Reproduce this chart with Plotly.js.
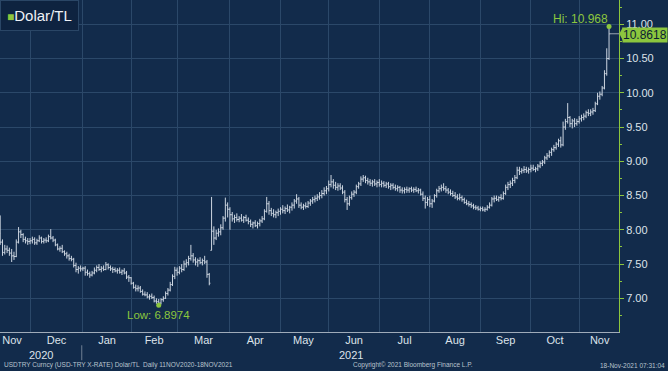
<!DOCTYPE html>
<html><head><meta charset="utf-8">
<script src="https://cdn.plot.ly/plotly-3.0.1.min.js"></script>
<style>html,body{margin:0;padding:0;background:#122b4b;}#chart{width:668px;height:371px;}</style>
</head><body><div id="chart"></div>
<script>
// ---- data ----
const firstDay = '2020-11-12';
const lastDay = '2021-11-18';
const monthStarts = ['2020-12-01','2021-01-01','2021-02-01','2021-03-01','2021-04-01','2021-05-03','2021-06-01','2021-07-01','2021-08-02','2021-09-01','2021-10-01','2021-11-01'];
const monthLabels = ['Nov','Dec','Jan','Feb','Mar','Apr','May','Jun','Jul','Aug','Sep','Oct','Nov'];
const monthLabelPos = ['2020-11-19 15:00','2020-12-17','2021-01-18','2021-02-15 12:00','2021-03-17','2021-04-16 12:00','2021-05-17 12:00','2021-06-16 12:00','2021-07-16 12:00','2021-08-17 12:00','2021-09-16 12:00','2021-10-18','2021-11-12 10:00'];
const yearLabels = ['2020','2021'];
const yearLabelPos = ['2020-12-08 07:00','2021-06-15'];
const yearBoundary = '2021-01-01';

const openP = [
 7.95,7.82,7.67,7.72,7.70,7.66,7.62,7.61,7.82,7.97,7.93,7.86,7.84,
 7.83,7.84,7.86,7.81,7.84,7.88,7.83,7.85,7.84,7.90,7.88,7.85,7.78,7.72,7.73,7.68,7.65,7.62,7.58,7.57,7.48,7.42,7.44,
 7.43,7.44,7.38,7.36,7.34,7.37,7.41,7.45,7.42,7.44,7.42,7.49,7.45,7.43,7.42,7.40,7.41,7.38,7.40,7.37,7.31,
 7.30,7.22,7.16,7.14,7.15,7.10,7.06,7.05,7.02,7.03,7.01,6.96,6.95,6.93,6.98,7.00,7.07,7.12,7.20,7.32,
 7.41,7.38,7.44,7.42,7.50,7.52,7.58,7.62,7.56,7.53,7.55,7.52,7.55,7.53,7.35,7.70,7.98,7.88,7.95,7.97,8.03,8.17,8.36,
 8.30,8.22,8.16,8.18,8.15,8.17,8.14,8.18,8.14,8.12,8.08,8.10,8.06,8.09,8.13,8.16,8.27,8.38,8.28,8.24,8.22,8.25,
 8.27,8.30,8.28,8.31,8.29,8.33,8.36,8.42,8.45,8.36,8.33,8.35,8.34,8.39,8.42,8.44,8.46,8.48,8.50,8.53,8.57,
 8.60,8.66,8.70,8.65,8.62,8.64,8.61,8.55,8.44,8.38,8.47,8.52,8.55,8.63,8.67,8.74,8.76,8.72,8.70,8.68,8.70,8.67,
 8.69,8.66,8.68,8.65,8.67,8.63,8.65,8.62,8.60,8.62,8.58,8.57,8.59,8.58,8.60,8.58,8.59,8.57,8.58,8.52,8.46,8.40,
 8.44,8.38,8.42,8.50,8.57,8.60,8.62,8.60,8.58,8.55,8.53,8.50,8.48,8.46,8.47,8.44,8.40,8.38,8.37,8.35,8.33,8.32,
 8.30,8.31,8.29,8.30,8.33,8.36,8.45,8.46,8.44,8.47,8.46,8.53,8.62,8.66,8.68,8.72,8.76,8.87,8.85,8.87,8.88,8.86,
 8.88,8.90,8.88,8.89,8.93,8.97,8.99,9.05,9.08,9.13,9.17,9.20,9.25,9.30,9.24,9.50,9.58,9.64,9.55,9.59,9.55,
 9.58,9.62,9.64,9.66,9.71,9.70,9.72,9.74,9.84,9.95,9.98,10.07,10.28,10.50
];
const highP = [
 8.21,7.86,7.78,7.77,7.74,7.72,7.68,7.86,8.04,8.00,7.95,7.90,7.88,
 7.88,7.90,7.89,7.87,7.92,7.90,7.88,7.89,7.93,8.01,7.91,7.87,7.80,7.76,7.78,7.70,7.68,7.65,7.62,7.59,7.52,7.47,7.48,
 7.46,7.47,7.42,7.39,7.40,7.45,7.48,7.50,7.47,7.48,7.53,7.51,7.48,7.46,7.45,7.44,7.45,7.42,7.44,7.40,7.34,
 7.31,7.24,7.20,7.19,7.18,7.13,7.10,7.09,7.06,7.07,7.04,7.00,6.99,7.00,7.03,7.10,7.15,7.24,7.35,7.46,
 7.45,7.47,7.50,7.55,7.57,7.62,7.78,7.66,7.60,7.58,7.60,7.58,7.62,7.56,7.37,8.48,8.05,8.00,8.02,8.08,8.20,8.47,8.40,
 8.33,8.26,8.22,8.24,8.20,8.23,8.20,8.22,8.18,8.15,8.12,8.14,8.12,8.16,8.20,8.30,8.48,8.42,8.32,8.30,8.28,8.31,
 8.33,8.36,8.34,8.37,8.35,8.40,8.45,8.52,8.48,8.40,8.38,8.40,8.42,8.45,8.48,8.50,8.52,8.55,8.58,8.62,8.64,
 8.72,8.80,8.74,8.70,8.68,8.68,8.65,8.58,8.48,8.50,8.56,8.58,8.66,8.70,8.78,8.80,8.79,8.76,8.74,8.73,8.74,8.72,
 8.74,8.72,8.71,8.70,8.70,8.68,8.68,8.66,8.65,8.64,8.62,8.62,8.63,8.62,8.63,8.62,8.63,8.61,8.60,8.56,8.50,8.48,
 8.50,8.45,8.52,8.60,8.64,8.66,8.68,8.64,8.61,8.59,8.57,8.55,8.52,8.53,8.50,8.47,8.44,8.42,8.40,8.38,8.36,8.35,
 8.34,8.34,8.33,8.36,8.40,8.48,8.50,8.50,8.49,8.52,8.56,8.66,8.70,8.72,8.76,8.80,8.92,8.92,8.90,8.93,8.92,8.91,
 8.95,8.95,8.92,8.96,9.00,9.02,9.08,9.12,9.16,9.20,9.24,9.28,9.33,9.36,9.58,9.62,9.85,9.66,9.62,9.63,9.62,
 9.66,9.68,9.70,9.74,9.76,9.76,9.78,9.87,10.00,10.02,10.10,10.33,10.65,10.968
];
const lowP = [
 7.78,7.62,7.64,7.66,7.62,7.53,7.56,7.60,7.80,7.88,7.82,7.80,7.78,
 7.79,7.80,7.78,7.78,7.82,7.80,7.80,7.81,7.82,7.86,7.82,7.76,7.70,7.68,7.66,7.62,7.58,7.55,7.54,7.45,7.38,7.36,7.39,
 7.40,7.33,7.33,7.30,7.32,7.35,7.38,7.40,7.38,7.40,7.41,7.42,7.40,7.37,7.38,7.36,7.36,7.34,7.35,7.28,7.24,
 7.20,7.14,7.10,7.10,7.08,7.04,7.03,7.00,6.98,6.99,6.94,6.92,6.8974,6.91,6.95,6.99,7.04,7.10,7.18,7.28,
 7.33,7.35,7.38,7.40,7.45,7.48,7.55,7.52,7.48,7.46,7.50,7.48,7.50,7.30,7.19,7.70,7.78,7.85,7.90,7.92,8.00,8.12,8.18,
 8.00,8.12,8.10,8.12,8.11,8.12,8.10,8.12,8.08,8.04,8.02,8.04,8.02,8.05,8.10,8.14,8.25,8.22,8.20,8.18,8.17,8.20,
 8.22,8.24,8.23,8.26,8.24,8.28,8.31,8.38,8.32,8.30,8.29,8.31,8.32,8.35,8.38,8.40,8.42,8.44,8.46,8.50,8.52,
 8.56,8.62,8.60,8.58,8.57,8.58,8.52,8.40,8.29,8.35,8.44,8.48,8.52,8.60,8.64,8.70,8.68,8.66,8.64,8.63,8.64,8.62,
 8.63,8.62,8.62,8.61,8.60,8.58,8.59,8.57,8.56,8.54,8.53,8.53,8.54,8.54,8.55,8.54,8.55,8.53,8.50,8.42,8.31,8.35,
 8.33,8.32,8.40,8.47,8.54,8.56,8.57,8.54,8.52,8.50,8.48,8.45,8.43,8.43,8.41,8.38,8.36,8.34,8.32,8.30,8.29,8.28,
 8.27,8.27,8.26,8.28,8.31,8.34,8.40,8.42,8.41,8.43,8.44,8.51,8.58,8.61,8.64,8.68,8.74,8.80,8.82,8.83,8.83,8.82,
 8.84,8.86,8.84,8.86,8.90,8.93,8.96,9.02,9.05,9.08,9.14,9.17,9.21,9.20,9.22,9.46,9.55,9.50,9.48,9.50,9.52,
 9.55,9.58,9.60,9.63,9.66,9.66,9.68,9.72,9.82,9.90,9.95,10.05,10.25,10.48
];
const closeP = [
 7.82,7.67,7.72,7.70,7.66,7.62,7.61,7.82,7.97,7.93,7.86,7.84,7.83,
 7.84,7.86,7.81,7.84,7.88,7.83,7.85,7.84,7.90,7.88,7.85,7.78,7.72,7.73,7.68,7.65,7.62,7.58,7.57,7.48,7.42,7.44,7.43,
 7.44,7.38,7.36,7.34,7.37,7.41,7.45,7.42,7.44,7.42,7.49,7.45,7.43,7.42,7.40,7.41,7.38,7.40,7.37,7.31,7.30,
 7.22,7.16,7.14,7.15,7.10,7.06,7.05,7.02,7.03,7.01,6.96,6.95,6.93,6.98,7.00,7.07,7.12,7.20,7.32,7.41,
 7.38,7.44,7.42,7.50,7.52,7.58,7.62,7.56,7.53,7.55,7.52,7.55,7.53,7.35,7.22,7.98,7.88,7.95,7.97,8.03,8.17,8.36,8.30,
 8.22,8.16,8.18,8.15,8.17,8.14,8.18,8.14,8.12,8.08,8.10,8.06,8.09,8.13,8.16,8.27,8.38,8.28,8.24,8.22,8.25,8.27,
 8.30,8.28,8.31,8.29,8.33,8.36,8.42,8.45,8.36,8.33,8.35,8.34,8.39,8.42,8.44,8.46,8.48,8.50,8.53,8.57,8.60,
 8.66,8.70,8.65,8.62,8.64,8.61,8.55,8.44,8.38,8.47,8.52,8.55,8.63,8.67,8.74,8.76,8.72,8.70,8.68,8.70,8.67,8.69,
 8.66,8.68,8.65,8.67,8.63,8.65,8.62,8.60,8.62,8.58,8.57,8.59,8.58,8.60,8.58,8.59,8.57,8.58,8.52,8.46,8.40,8.44,
 8.38,8.42,8.50,8.57,8.60,8.62,8.60,8.58,8.55,8.53,8.50,8.48,8.46,8.47,8.44,8.40,8.38,8.37,8.35,8.33,8.32,8.30,
 8.31,8.29,8.30,8.33,8.36,8.45,8.46,8.44,8.47,8.46,8.53,8.62,8.66,8.68,8.72,8.76,8.87,8.85,8.87,8.88,8.86,8.88,
 8.90,8.88,8.89,8.93,8.97,8.99,9.05,9.08,9.13,9.17,9.20,9.25,9.30,9.24,9.50,9.58,9.64,9.55,9.59,9.55,9.58,
 9.62,9.64,9.66,9.71,9.70,9.72,9.74,9.84,9.95,9.98,10.07,10.28,10.50,10.8618
];
const footerLeft = 'USDTRY Curncy (USD-TRY X-RATE) Dolar/TL  Daily 11NOV2020-18NOV2021';
const footerMid = 'Copyright\u00a9 2021 Bloomberg Finance L.P.';
const footerRight = '18-Nov-2021 07:31:04';
const seriesName = 'Dolar/TL';

// ---- styling ----
const BG = '#122b4b', GRID = '#2b4869', GREEN = '#8cc63e', BAR = '#ccd5e0', TXT = '#dde3ea';
const FONT = '"Liberation Sans", Arial, sans-serif';

// trading days (weekdays), bars drawn at mid-day
function weekdays(a, b) {
  const out = []; let d = new Date(a + 'T12:00:00Z'); const end = new Date(b + 'T12:00:00Z');
  while (d <= end) { const w = d.getUTCDay(); if (w !== 0 && w !== 6) out.push(d.toISOString().slice(0,10) + ' 12:00'); d = new Date(d.getTime() + 86400000); }
  return out;
}
const dates = weekdays(firstDay, lastDay);
if (dates.length !== closeP.length) console.error('length mismatch', dates.length, closeP.length);

const xRange = ['2020-11-12 10:00', '2021-11-24 20:00'];
const breaks = [{bounds: ['sat', 'mon']}];

let hiIdx = 0, loIdx = 0;
highP.forEach((v, i) => { if (v > highP[hiIdx]) hiIdx = i; });
lowP.forEach((v, i) => { if (v < lowP[loIdx]) loIdx = i; });
const lastIdx = closeP.length - 1;
const lastClose = closeP[lastIdx];

const traces = [
  {type: 'ohlc', x: dates, open: openP, high: highP, low: lowP, close: closeP, name: seriesName,
   increasing: {line: {color: BAR, width: 1}}, decreasing: {line: {color: BAR, width: 1}},
   tickwidth: 0.5, hoverinfo: 'skip'},
  {type: 'scatter', mode: 'markers', x: [dates[hiIdx], dates[loIdx]], y: [highP[hiIdx], lowP[loIdx]],
   xaxis: 'x2', marker: {color: GREEN, size: 5}, hoverinfo: 'skip'}
];

const annotations = [
  {xref: 'x', yref: 'y', x: dates[hiIdx], y: highP[hiIdx], text: 'Hi: ' + highP[hiIdx], showarrow: false,
   xanchor: 'right', yanchor: 'bottom', xshift: 1, yshift: -1, font: {family: FONT, size: 12, color: GREEN}},
  {xref: 'x', yref: 'y', x: dates[loIdx], y: lowP[loIdx], text: 'Low: ' + lowP[loIdx], showarrow: false,
   xanchor: 'center', yanchor: 'top', yshift: -2, font: {family: FONT, size: 11.5, color: GREEN}},
  {xref: 'paper', yref: 'y', x: 1, y: lastClose, text: String(lastClose), showarrow: false,
   xanchor: 'left', yanchor: 'middle', xshift: 3, yshift: -1, bgcolor: GREEN, borderpad: 0,
   font: {family: FONT, size: 12, color: '#0b1c33'}},
  {xref: 'paper', yref: 'paper', x: 0, y: 1, xanchor: 'left', yanchor: 'top', showarrow: false,
   text: '<span style="color:' + GREEN + ';font-size:12px">\u25A0</span>' + seriesName,
   bgcolor: '#0e2340', bordercolor: '#2a4666', borderwidth: 1, borderpad: 6,
   font: {family: FONT, size: 15, color: '#eef2f6'}},
  {xref: 'x', yref: 'paper', x: yearLabelPos[0], y: -0.069, text: yearLabels[0], showarrow: false,
   xanchor: 'center', yanchor: 'middle', font: {family: FONT, size: 11, color: TXT}},
  {xref: 'x', yref: 'paper', x: yearLabelPos[1], y: -0.069, text: yearLabels[1], showarrow: false,
   xanchor: 'center', yanchor: 'middle', font: {family: FONT, size: 11, color: TXT}},
  {xref: 'paper', yref: 'paper', x: 0.003, y: -0.0994, text: footerLeft, showarrow: false,
   xanchor: 'left', yanchor: 'middle', font: {family: FONT, size: 6.5, color: '#b9c3ce'}},
  {xref: 'paper', yref: 'paper', x: 0.567, y: -0.0994, text: footerMid, showarrow: false,
   xanchor: 'left', yanchor: 'middle', font: {family: FONT, size: 6.5, color: '#b9c3ce'}},
  {xref: 'paper', yref: 'paper', x: 1.0775, y: -0.0994, text: footerRight, showarrow: false,
   xanchor: 'right', yanchor: 'middle', font: {family: FONT, size: 6.5, color: '#b9c3ce'}}
];

const shapes = [
  {type: 'line', xref: 'x', yref: 'y', x0: dates[lastIdx], x1: xRange[1], y0: lastClose, y1: lastClose,
   line: {color: '#9aa5b2', width: 1}},
  {type: 'path', xref: 'paper', yref: 'y', path: 'M 1.0005 ' + lastClose + ' L 1.0065 ' + (lastClose + 0.1) + ' L 1.0065 ' + (lastClose - 0.1) + ' Z',
   fillcolor: GREEN, line: {width: 0}},
  {type: 'line', xref: 'x', yref: 'paper', x0: yearBoundary, x1: yearBoundary, y0: -0.04, y1: -0.085,
   line: {color: '#6f7f92', width: 1}}
];

const layout = {
  width: 668, height: 371,
  margin: {l: 0, r: 49, t: 0, b: 39, pad: 0},
  paper_bgcolor: BG, plot_bgcolor: BG, showlegend: false,
  font: {family: FONT, size: 11, color: TXT},
  xaxis: {type: 'date', range: xRange, rangebreaks: breaks, rangeslider: {visible: false}, tickmode: 'array',
    tickvals: monthStarts.map(d => d + ' 12:00'), showticklabels: false,
    showgrid: true, gridcolor: GRID, gridwidth: 1, showline: true, linecolor: '#9fabb9', linewidth: 1,
    ticks: '', zeroline: false, fixedrange: true},
  xaxis2: {type: 'date', overlaying: 'x', anchor: 'y', side: 'bottom', range: xRange, rangebreaks: breaks,
    rangeslider: {visible: false},
    tickmode: 'array', tickvals: monthLabelPos, ticktext: monthLabels, showgrid: false, showline: false,
    ticks: '', zeroline: false, tickfont: {family: FONT, size: 11, color: TXT}},
  yaxis: {side: 'right', range: [6.508, 11.355], tickmode: 'linear', tick0: 7, dtick: 0.5, tickformat: '.2f',
    showgrid: true, gridcolor: GRID, gridwidth: 1, showline: true, linecolor: GREEN, linewidth: 1,
    ticks: 'outside', tickcolor: GREEN, ticklen: 4, tickwidth: 1,
    minor: {ticks: 'outside', dtick: 0.25, tick0: 7, ticklen: 2, tickcolor: GREEN, showgrid: false},
    zeroline: false, tickfont: {family: FONT, size: 11, color: TXT}},
  annotations: annotations, shapes: shapes
};

Plotly.newPlot('chart', traces, layout, {displayModeBar: false, staticPlot: true});
</script></body></html>
